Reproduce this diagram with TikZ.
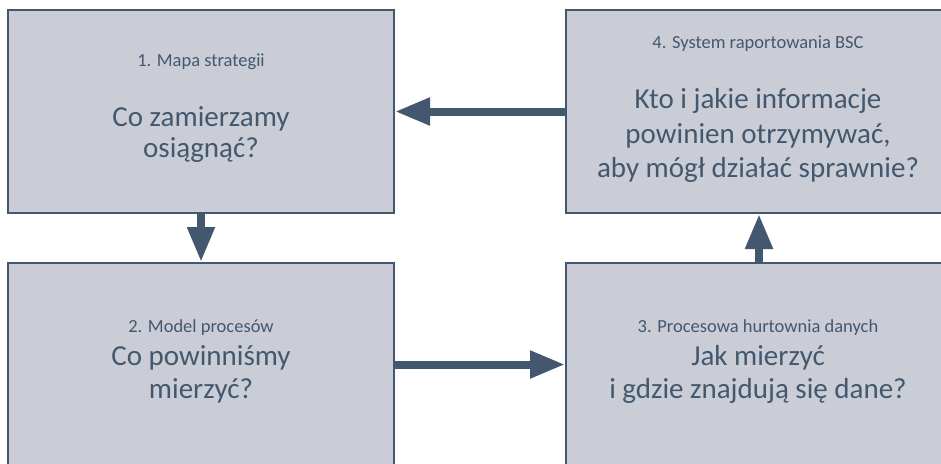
\documentclass[tikz,border=0pt]{standalone}
\usepackage{fontspec}
\setmainfont{Carlito}
\usetikzlibrary{arrows.meta}
\definecolor{slate}{HTML}{43586F}
\definecolor{boxfill}{HTML}{CACDD6}
\begin{document}
\begin{tikzpicture}[x=1pt,y=-1pt,
  box/.style={rectangle, draw=slate, line width=2pt, fill=boxfill,
    minimum width=386pt, minimum height=203pt, inner sep=0pt},
  conn/.style={draw=slate, line width=8pt, -{Triangle[length=35pt,width=26pt]}},
  txt/.style={text=slate, anchor=base, inner sep=0pt},
  small/.style={font=\fontsize{18.5}{22}\selectfont},
  big/.style={font=\fontsize{29}{34}\selectfont}]
\useasboundingbox (0,0) rectangle (941,463);
\clip (0,0) rectangle (941,463);
\fill[white] (0,0) rectangle (941,463);
\node[box] (b1) at (201,111.5) {};
\node[box] (b4) at (759,111.5) {};
\node[box] (b2) at (201,364.5) {};
\node[box] (b3) at (759,364.5) {};
\draw[conn] (b1.south) -- (b2.north);
\draw[conn] (b4.west) -- (b1.east);
\draw[conn] (b2.east) -- (b3.west);
\draw[conn] (b3.north) -- (b4.south);
\node[txt,small] (t1) at (201,66) {1. Mapa strategii};
\node[txt,big] (t1a) at (201,126) {Co zamierzamy};
\node[txt,big] (t1b) at (201,157) {osiągnąć?};
\node[txt,small] (t4) at (758,48) {4. System raportowania BSC};
\node[txt,big] (t4a) at (758,108) {Kto i jakie informacje};
\node[txt,big] (t4b) at (758,143) {powinien otrzymywać,};
\node[txt,big] (t4c) at (758,177) {aby mógł działać sprawnie?};
\node[txt,small] (t2) at (201,332) {2. Model procesów};
\node[txt,big] (t2a) at (201,365) {Co powinniśmy};
\node[txt,big] (t2b) at (201,398) {mierzyć?};
\node[txt,small] (t3) at (758,332) {3. Procesowa hurtownia danych};
\node[txt,big] (t3a) at (758,365) {Jak mierzyć};
\node[txt,big] (t3b) at (758,398) {i gdzie znajdują się dane?};
\end{tikzpicture}
\end{document}
